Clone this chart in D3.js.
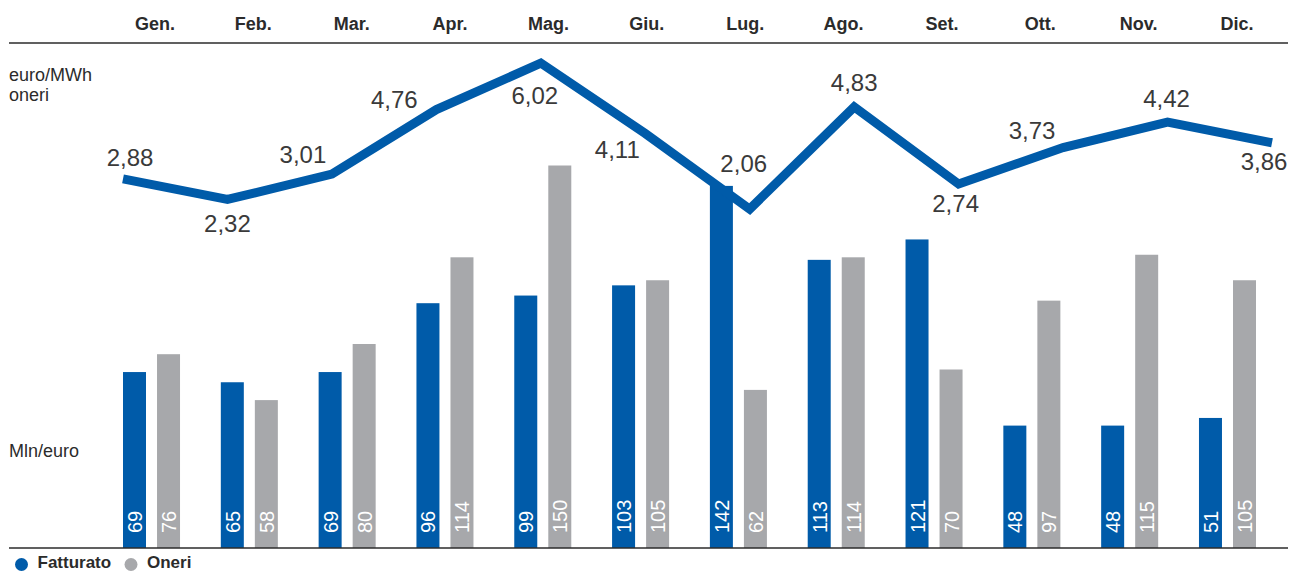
<!DOCTYPE html>
<html>
<head>
<meta charset="utf-8">
<script src="https://cdn.jsdelivr.net/npm/d3@7"></script>
<style>
  html, body { margin: 0; padding: 0; background: #fff; }
  svg { display: block; }
  text { font-family: "Liberation Sans", Arial, Helvetica, sans-serif; }
</style>
</head>
<body>
<svg id="chart" width="1290" height="572"></svg>
<script>
// Months (header labels)
const months = ["Gen.", "Feb.", "Mar.", "Apr.", "Mag.", "Giu.", "Lug.", "Ago.", "Set.", "Ott.", "Nov.", "Dic."];
// Mln euro
const fatturato = [69, 65, 69, 96, 99, 103, 142, 113, 121, 48, 48, 51];
const oneri = [76, 58, 80, 114, 150, 105, 62, 114, 70, 97, 115, 105];
// euro/MWh oneri
const oneriMWh = [2.88, 2.32, 3.01, 4.76, 6.02, 4.11, 2.06, 4.83, 2.74, 3.73, 4.42, 3.86];
const seriesNames = ["Fatturato", "Oneri"];

const BLUE = "#005ba9";
const GREY = "#a7a8ab";
const INK = "#2b2b2b";

const svg = d3.select("#chart");

// Scales
const x = d3.scaleBand().domain(months).range([123, 1256]).paddingInner(0.417).paddingOuter(0);
const xs = d3.scaleBand().domain(seriesNames).range([0, x.bandwidth()]).paddingInner(0.324).paddingOuter(0);
const xHead = d3.scalePoint().domain(months).range([155, 1237]);
const xLine = d3.scalePoint().domain(months).range([123, 1272]);
const yBar = d3.scaleLinear().domain([0, 160]).range([548, 140]);
const yLine = d3.scaleLinear().domain([0, 7]).range([285, 27]);

// Top header rule and month names
svg.append("line").attr("x1", 9).attr("x2", 1288).attr("y1", 43).attr("y2", 43)
  .attr("stroke", INK).attr("stroke-width", 1.5);
svg.append("g").selectAll("text").data(months).join("text")
  .attr("x", d => xHead(d)).attr("y", 30)
  .attr("text-anchor", "middle")
  .attr("font-size", 18).attr("font-weight", "bold").attr("fill", INK)
  .text(d => d);

// Unit captions
const cap = svg.append("g").attr("fill", INK).attr("font-size", 18);
cap.append("text").attr("x", 9).attr("y", 81).text("euro/MWh");
cap.append("text").attr("x", 9).attr("y", 101).text("oneri");
cap.append("text").attr("x", 9).attr("y", 457).text("Mln/euro");

// Bars
const rows = months.map((m, i) => ({ m, vals: [fatturato[i], oneri[i]] }));
const groups = svg.append("g").selectAll("g").data(rows).join("g")
  .attr("transform", d => `translate(${x(d.m)},0)`);

groups.selectAll("rect").data(d => d.vals.map((v, k) => ({ v, s: seriesNames[k] }))).join("rect")
  .attr("x", d => xs(d.s))
  .attr("width", xs.bandwidth())
  .attr("y", d => yBar(d.v))
  .attr("height", d => yBar(0) - yBar(d.v))
  .attr("fill", d => d.s === "Fatturato" ? BLUE : GREY);

groups.selectAll("text").data(d => d.vals.map((v, k) => ({ v, s: seriesNames[k] }))).join("text")
  .attr("transform", d => `translate(${xs(d.s) + xs.bandwidth() - 4},${yBar(0) - 15}) rotate(-90)`)
  .attr("font-size", 20)
  .attr("fill", "#fff")
  .text(d => d.v);

// Baseline
svg.append("line").attr("x1", 9).attr("x2", 1288).attr("y1", yBar(0)).attr("y2", yBar(0))
  .attr("stroke", INK).attr("stroke-width", 1.5);

// Line for euro/MWh
const pts = months.map((m, i) => ({ m, v: oneriMWh[i] }));
svg.append("path").datum(pts)
  .attr("fill", "none").attr("stroke", BLUE).attr("stroke-width", 9)
  .attr("stroke-linejoin", "miter").attr("stroke-linecap", "butt")
  .attr("d", d3.line().x(d => xLine(d.m)).y(d => yLine(d.v)));

// Value labels for the line, placed around each vertex
const labelOffsets = [[7, -13], [0, 33], [-29, -11], [-42, -2], [-6, 41], [-28, 24], [-6, -37], [0, -16], [-3, 28], [-31, -9], [-1, -15], [-8, 27]];
svg.append("g").selectAll("text").data(pts).join("text")
  .attr("x", (d, i) => xLine(d.m) + labelOffsets[i][0])
  .attr("y", (d, i) => yLine(d.v) + labelOffsets[i][1])
  .attr("text-anchor", "middle")
  .attr("font-size", 24)
  .attr("fill", "#3a3a3a")
  .text(d => d3.format(".2f")(d.v).replace(".", ","));

// Legend
const legend = svg.append("g").attr("font-size", 17).attr("font-weight", "bold").attr("fill", INK);
const legendX = [21.5, 131];
seriesNames.forEach((s, k) => {
  legend.append("circle").attr("cx", legendX[k]).attr("cy", 564.5).attr("r", 6.5)
    .attr("fill", k === 0 ? BLUE : GREY);
  legend.append("text").attr("x", legendX[k] + 16).attr("y", 568).text(s);
});
</script>
</body>
</html>
